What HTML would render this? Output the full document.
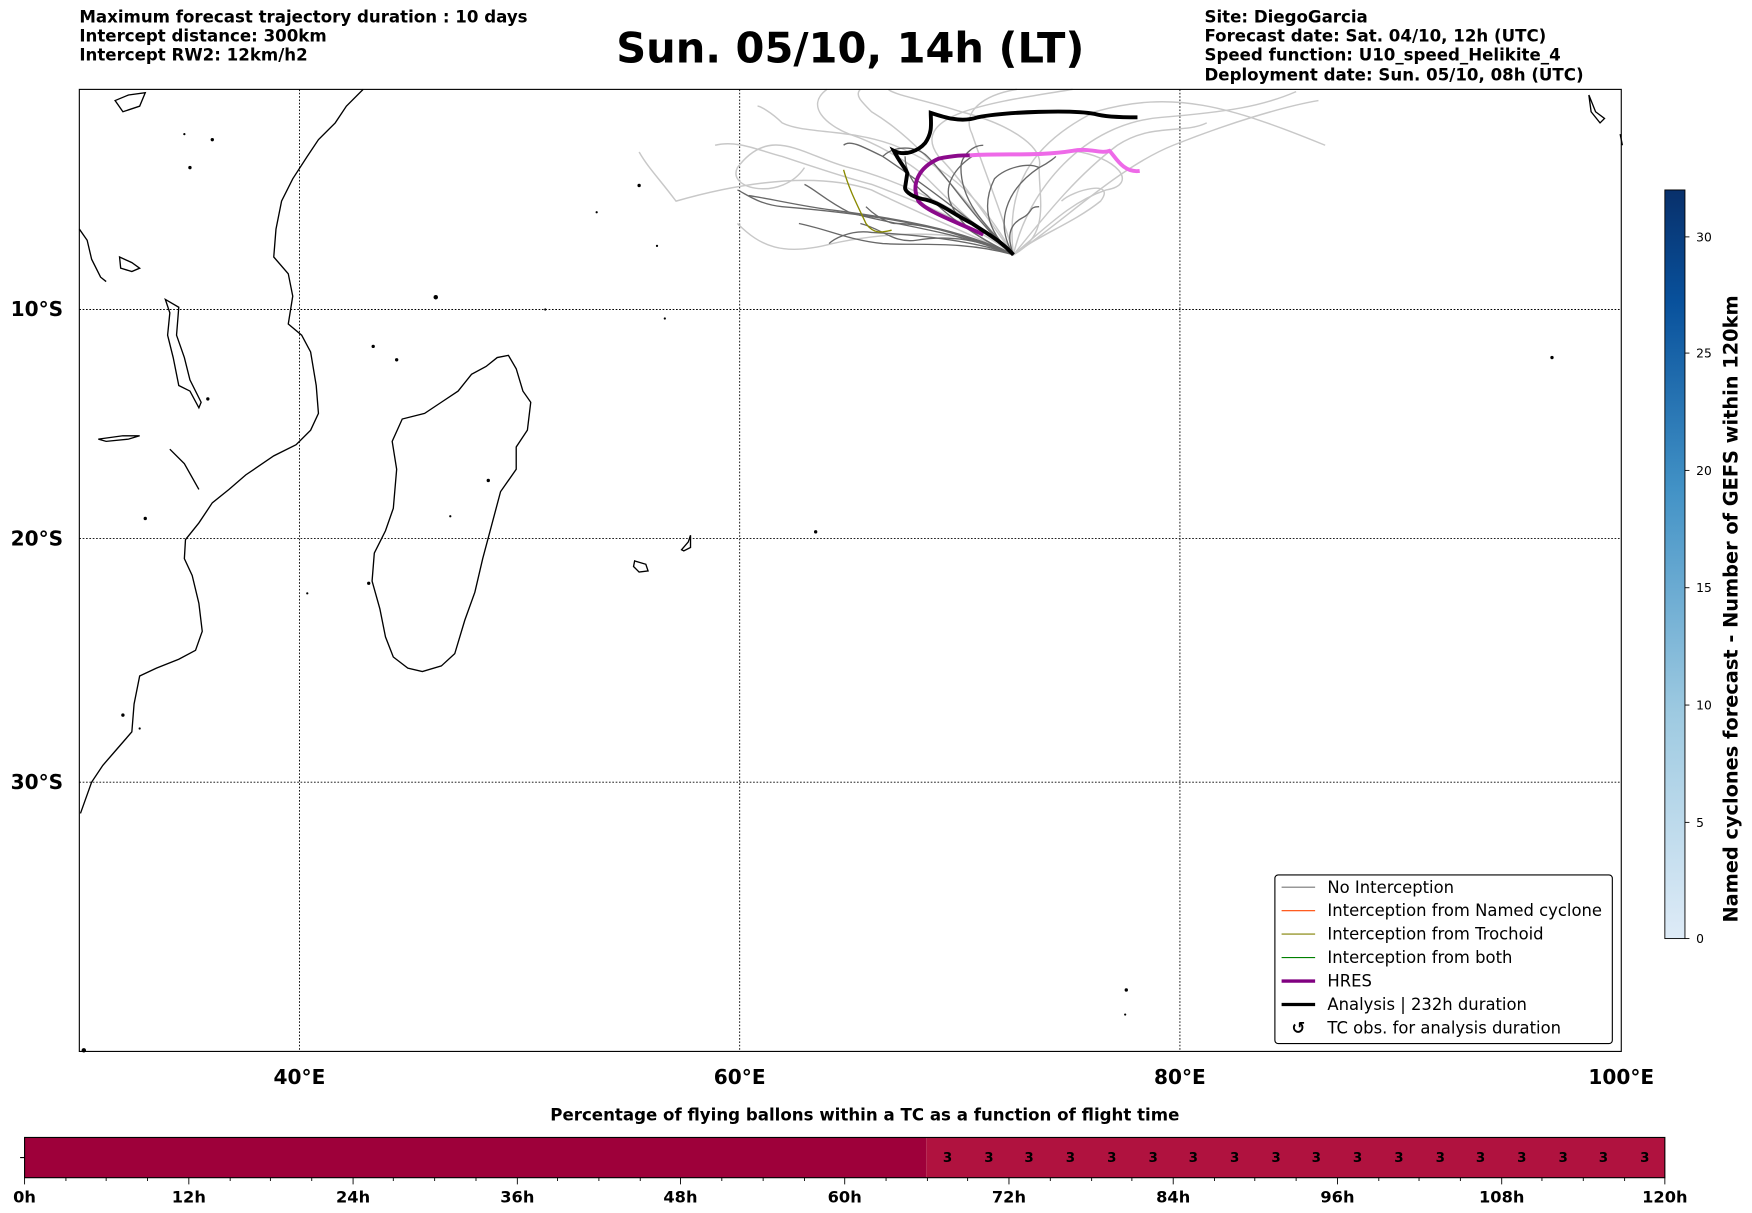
<!DOCTYPE html>
<html><head><meta charset="utf-8"><style>
html,body{margin:0;padding:0;background:#fff}
svg{display:block}
text{font-family:"DejaVu Sans","Liberation Sans",sans-serif}
</style></head><body>
<svg width="1752" height="1213" viewBox="0 0 1568 1085.6" xmlns="http://www.w3.org/2000/svg">
<g font-weight="bold" font-size="14.9" fill="#000">
<text x="71" y="20">Maximum forecast trajectory duration : 10 days</text>
<text x="71" y="37">Intercept distance: 300km</text>
<text x="71" y="54">Intercept RW2: 12km/h2</text>
<text x="1078" y="20">Site: DiegoGarcia</text>
<text x="1078" y="37">Forecast date: Sat. 04/10, 12h (UTC)</text>
<text x="1078" y="54">Speed function: U10_speed_Helikite_4</text>
<text x="1078" y="72">Deployment date: Sun. 05/10, 08h (UTC)</text>
<text x="761" y="56" font-size="37.2" text-anchor="middle">Sun. 05/10, 14h (LT)</text>
</g>
<!-- grid -->
<g stroke="#000" stroke-width="0.8" stroke-dasharray="1.5,1.5">
<line x1="268" y1="80" x2="268" y2="941"/><line x1="662" y1="80" x2="662" y2="941"/><line x1="1056" y1="80" x2="1056" y2="941"/>
<line x1="71" y1="277" x2="1451" y2="277"/><line x1="71" y1="482" x2="1451" y2="482"/><line x1="71" y1="700" x2="1451" y2="700"/>
</g>
<!-- coastlines -->
<g fill="none" stroke="#000" stroke-width="1.2">
<path d="M325,80 L310,95 300,110 285,125 275,140 262,160 252,180 247,205 245,230 258,245 262,265 258,290 270,300 278,315 283,345 285,370 278,385 265,398 245,408 220,425 205,438 190,450 178,468 166,483 165,500 172,515 178,540 181,565 175,582 160,590 140,598 125,605 120,630 118,655 105,670 92,685 82,700 72,728"/>
<path d="M455,318 L462,330 468,350 475,360 472,385 462,400 462,420 448,440 440,470 432,500 425,530 416,555 407,585 395,596 378,601 365,598 352,588 345,570 340,545 333,520 335,495 345,475 352,455 355,420 351,395 360,375 380,370 395,360 410,350 422,335 435,328 445,320 Z"/>
<path d="M71,205 L78,215 82,232 90,248 95,252"/>
<path d="M107,230 L118,235 125,240 118,243 108,240Z"/>
<path d="M148,268 L160,275 158,300 165,320 170,340 180,360 178,365 170,350 160,345 155,320 150,300 152,280Z"/>
<path d="M88,393 L110,390 125,390 115,393 95,395Z"/>
<path d="M152,402 L165,415 178,438"/>
<path d="M568,502 L578,505 580,511 572,512 567,507Z"/>
<path d="M610,492 L616,485 618,479 618,490 612,493Z"/>
<path d="M1422,85 L1428,100 1436,106 1432,110 1424,100Z"/>
<path d="M1450,120 L1452,130"/>
<path d="M103,90 L115,85 130,83 125,95 110,100Z"/>
</g>
<g fill="#000">
<circle cx="390" cy="266" r="2"/><circle cx="334" cy="310" r="1.5"/><circle cx="355" cy="322" r="1.5"/><circle cx="186" cy="357" r="1.5"/>
<circle cx="130" cy="464" r="1.5"/><circle cx="572" cy="166" r="1.5"/><circle cx="1389" cy="320" r="1.5"/><circle cx="1008" cy="886" r="1.5"/>
<circle cx="1007" cy="908" r="1"/><circle cx="730" cy="476" r="1.5"/><circle cx="330" cy="522" r="1.5"/><circle cx="437" cy="430" r="1.5"/>
<circle cx="275" cy="531" r="1"/><circle cx="110" cy="640" r="1.5"/><circle cx="125" cy="652" r="1"/><circle cx="403" cy="462" r="1"/>
<circle cx="595" cy="285" r="1"/><circle cx="488" cy="277" r="1"/><circle cx="534" cy="190" r="1"/><circle cx="588" cy="220" r="1"/>
<circle cx="170" cy="150" r="1.5"/><circle cx="190" cy="125" r="1.5"/><circle cx="165" cy="120" r="1"/><circle cx="75" cy="940" r="2"/>
</g>
<!-- light trajectories -->
<g fill="none" stroke="#c8c8c8" stroke-width="1.3">
<path d="M907,228 C860,200 780,210 745,218 C700,230 680,220 660,200"/>
<path d="M907,228 C870,210 820,190 780,170 C720,150 640,170 605,180 C590,160 580,150 572,136"/>
<path d="M907,228 C880,190 860,160 840,140 C810,100 900,90 960,80"/>
<path d="M907,228 C900,170 920,130 980,100 C1050,80 1100,95 1186,130"/>
<path d="M907,228 C880,180 850,150 800,130 C760,115 720,120 700,110 C690,100 680,95 678,95"/>
<path d="M907,228 C920,170 970,110 1040,105 C1100,100 1130,95 1160,82"/>
<path d="M907,228 C860,180 830,130 780,100 C770,90 765,85 770,80"/>
<path d="M907,228 C870,190 800,160 760,150 C720,140 690,110 660,150 C650,170 700,180 720,150"/>
<path d="M907,228 C880,210 850,180 830,160 C820,150 790,130 760,120 C740,112 720,95 740,80"/>
<path d="M907,228 C930,200 960,160 1000,130 C1030,110 1060,120 1080,110"/>
<path d="M907,228 C940,210 930,180 930,150 C935,130 900,110 860,100 C830,90 800,85 795,80"/>
<path d="M907,228 C950,200 1000,150 1050,130 C1100,110 1150,95 1180,90"/>
<path d="M907,228 C900,200 880,150 870,120 C860,100 880,85 910,80"/>
<path d="M907,228 C870,200 820,180 780,165 C760,160 730,150 700,140 C680,135 660,125 640,130"/>
<path d="M907,228 C940,200 960,180 990,170 C1020,165 1000,140 960,135"/>
<path d="M907,228 C930,210 960,200 985,180 C1000,160 960,170 950,180"/>
</g>
<!-- dark trajectories -->
<g fill="none" stroke="#686868" stroke-width="1.2">
<path d="M907,228 C850,200 760,190 700,185 C680,183 670,175 660,170"/>
<path d="M907,228 C860,205 800,195 745,188 C720,185 690,178 670,175"/>
<path d="M907,228 C870,215 820,210 780,208 C760,205 745,215 742,218"/>
<path d="M907,228 C860,190 820,160 790,140 C770,130 760,125 755,130"/>
<path d="M907,228 C880,200 860,180 860,150 C860,140 870,130 880,130"/>
<path d="M907,228 C890,200 900,170 930,150 C940,145 945,140 945,140"/>
<path d="M907,228 C870,195 850,160 830,140 C820,130 800,130 790,140"/>
<path d="M907,228 C880,215 850,210 820,215 C800,218 790,205 770,200"/>
<path d="M907,228 C860,210 830,200 800,200 C790,198 780,190 775,185"/>
<path d="M907,228 C880,205 880,180 890,160 C900,150 920,145 930,150"/>
<path d="M907,228 C870,210 850,195 830,175 C815,165 810,150 810,140"/>
<path d="M907,228 C900,210 905,200 915,195 C925,190 920,185 930,185"/>
<path d="M907,228 C860,215 820,220 790,218 C760,215 740,205 715,200"/>
<path d="M907,228 C850,205 790,200 760,190 C740,180 730,170 720,165"/>
<path d="M907,228 C880,215 860,205 850,180 C845,165 855,150 870,140"/>
</g>
<path d="M755,152 C760,170 768,185 775,200 C782,210 790,208 798,206" fill="none" stroke="#8a8a00" stroke-width="1.2"/>
<!-- HRES -->
<path d="M880,210 C860,200 830,190 822,180 C815,165 822,150 840,142 C855,139 862,139 868,139" fill="none" stroke="#8b0a8b" stroke-width="3.5"/>
<path d="M868,139 C900,137 930,140 960,135 C975,132 985,138 993,135 C998,140 1005,155 1020,153" fill="none" stroke="#ee6ae8" stroke-width="3.5"/>
<!-- Analysis -->
<path d="M907,228 C895,215 885,210 870,200 C850,190 840,180 825,178 C813,175 810,170 810,168 L812,155 C810,150 805,145 800,135 C810,140 822,135 828,128 C835,118 833,110 833,101 C845,105 860,110 875,105 C900,100 960,98 980,102 C990,105 1010,105 1018,105" fill="none" stroke="#000" stroke-width="3.5"/>
<!-- axes frame -->
<rect x="71" y="80" width="1380" height="861" fill="none" stroke="#000" stroke-width="1"/>
<g font-weight="bold" font-size="18" text-anchor="middle">
<text x="268" y="970">40°E</text><text x="662" y="970">60°E</text><text x="1056" y="970">80°E</text><text x="1451" y="970">100°E</text>
<text x="33" y="283">10°S</text><text x="33" y="488">20°S</text><text x="33" y="706">30°S</text>
</g>
<!-- legend -->
<rect x="1141" y="783" width="302" height="151" rx="3" fill="#fff" stroke="#000" stroke-width="1"/>
<g font-size="14.7">
<line x1="1147" y1="794" x2="1177" y2="794" stroke="#777" stroke-width="1"/><text x="1188" y="799">No Interception</text>
<line x1="1147" y1="815" x2="1177" y2="815" stroke="#ff4500" stroke-width="1"/><text x="1188" y="820">Interception from Named cyclone</text>
<line x1="1147" y1="836" x2="1177" y2="836" stroke="#808000" stroke-width="1"/><text x="1188" y="841">Interception from Trochoid</text>
<line x1="1147" y1="857" x2="1177" y2="857" stroke="#008000" stroke-width="1"/><text x="1188" y="862">Interception from both</text>
<line x1="1147" y1="878" x2="1177" y2="878" stroke="#800080" stroke-width="3"/><text x="1188" y="883">HRES</text>
<line x1="1147" y1="899" x2="1177" y2="899" stroke="#000" stroke-width="3"/><text x="1188" y="904">Analysis | 232h duration</text>
<text x="1162" y="925" text-anchor="middle" font-weight="bold">↺</text><text x="1188" y="925">TC obs. for analysis duration</text>
</g>
<!-- colorbar -->
<defs><linearGradient id="cb" x1="0" y1="1" x2="0" y2="0">
<stop offset="0" stop-color="#deebf7"/><stop offset="0.3" stop-color="#9ecae1"/><stop offset="0.6" stop-color="#4292c6"/><stop offset="0.85" stop-color="#08519c"/><stop offset="1" stop-color="#08306b"/></linearGradient></defs>
<rect x="1490" y="170" width="18" height="670" fill="url(#cb)" stroke="#000" stroke-width="0.8"/>
<g font-size="11">
<text x="1518" y="844">0</text><text x="1518" y="740">5</text><text x="1518" y="635">10</text><text x="1518" y="530">15</text><text x="1518" y="425">20</text><text x="1518" y="320">25</text><text x="1518" y="216">30</text>
</g>
<g stroke="#000" stroke-width="0.8"><line x1="1508" y1="840" x2="1512" y2="840"/><line x1="1508" y1="736" x2="1512" y2="736"/><line x1="1508" y1="631" x2="1512" y2="631"/><line x1="1508" y1="526" x2="1512" y2="526"/><line x1="1508" y1="421" x2="1512" y2="421"/><line x1="1508" y1="316" x2="1512" y2="316"/><line x1="1508" y1="212" x2="1512" y2="212"/></g>
<text transform="translate(1555,545) rotate(-90)" text-anchor="middle" font-weight="bold" font-size="17.3">Named cyclones forecast - Number of GEFS within 120km</text>
<!-- bottom bar -->
<text x="774" y="1003" text-anchor="middle" font-weight="bold" font-size="14.9">Percentage of flying ballons within a TC as a function of flight time</text>
<rect x="22" y="1018" width="807" height="36" fill="#9e003a"/>
<rect x="829" y="1018" width="661" height="36" fill="#b0123f"/>
<rect x="22" y="1018" width="1468" height="36" fill="none" stroke="#000" stroke-width="1"/>
<line x1="18" y1="1036" x2="22" y2="1036" stroke="#000"/>
<g font-size="12" font-weight="bold" text-anchor="middle">
<text x="848" y="1040">3</text><text x="885" y="1040">3</text><text x="921" y="1040">3</text><text x="958" y="1040">3</text><text x="995" y="1040">3</text><text x="1032" y="1040">3</text><text x="1068" y="1040">3</text><text x="1105" y="1040">3</text><text x="1142" y="1040">3</text><text x="1178" y="1040">3</text><text x="1215" y="1040">3</text><text x="1252" y="1040">3</text><text x="1289" y="1040">3</text><text x="1325" y="1040">3</text><text x="1362" y="1040">3</text><text x="1399" y="1040">3</text><text x="1435" y="1040">3</text><text x="1472" y="1040">3</text>
</g>
<g stroke="#000" stroke-width="0.8">
<path d="M22,1054v6M59,1054v3M95,1054v3M132,1054v3M169,1054v6M206,1054v3M242,1054v3M279,1054v3M316,1054v6M352,1054v3M389,1054v3M426,1054v3M463,1054v6M499,1054v3M536,1054v3M573,1054v3M609,1054v6M646,1054v3M683,1054v3M720,1054v3M756,1054v6M793,1054v3M830,1054v3M866,1054v3M903,1054v6M940,1054v3M977,1054v3M1013,1054v3M1050,1054v6M1087,1054v3M1123,1054v3M1160,1054v3M1197,1054v6M1234,1054v3M1270,1054v3M1307,1054v3M1344,1054v6M1380,1054v3M1417,1054v3M1454,1054v3M1490,1054v6"/>
</g>
<g font-size="14.5" font-weight="bold" text-anchor="middle">
<text x="22" y="1076">0h</text><text x="169" y="1076">12h</text><text x="316" y="1076">24h</text><text x="463" y="1076">36h</text><text x="609" y="1076">48h</text><text x="756" y="1076">60h</text><text x="903" y="1076">72h</text><text x="1050" y="1076">84h</text><text x="1197" y="1076">96h</text><text x="1344" y="1076">108h</text><text x="1490" y="1076">120h</text>
</g>
</svg>
</body></html>
